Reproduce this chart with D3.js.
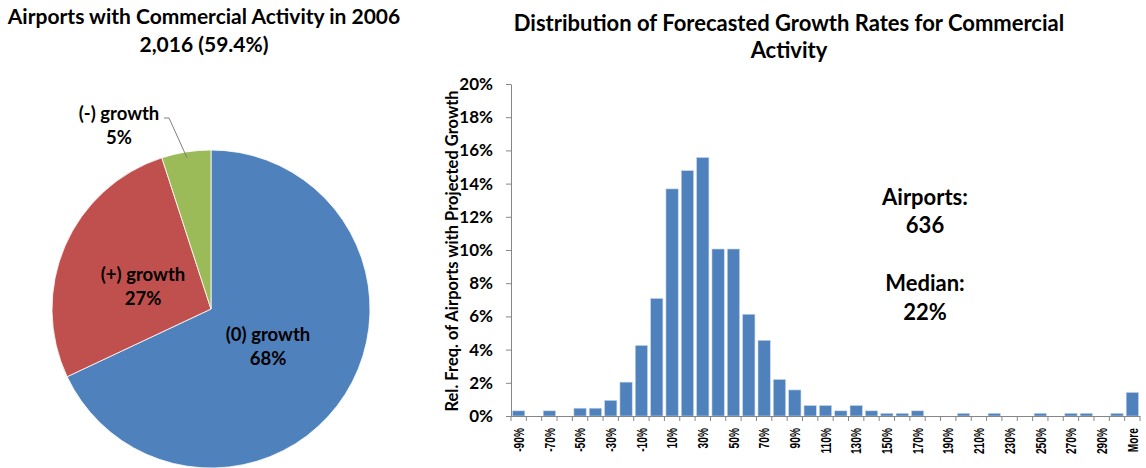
<!DOCTYPE html>
<html><head><meta charset="utf-8">
<script src="https://cdn.jsdelivr.net/npm/d3@7"></script>
<style>body{margin:0;background:#fff}svg{display:block}</style>
</head><body>
<svg id="c" width="1146" height="468"></svg>
<script>
// Pie data
const pieLabels = ["(0) growth", "(+) growth", "(-) growth"];
const pieValues = [68, 27, 5];
const pieColors = ["#4F81BD", "#C0504D", "#9BBB59"];

// Histogram data (relative frequency, %)
const binLabels = ["-90%","-80%","-70%","-60%","-50%","-40%","-30%","-20%","-10%","0%",
  "10%","20%","30%","40%","50%","60%","70%","80%","90%","100%",
  "110%","120%","130%","140%","150%","160%","170%","180%","190%","200%",
  "210%","220%","230%","240%","250%","260%","270%","280%","290%","300%","More"];
const binValues = [0.31,0,0.31,0,0.47,0.47,0.94,2.04,4.25,7.08,
  13.68,14.78,15.57,10.06,10.06,6.13,4.56,2.20,1.57,0.63,
  0.63,0.31,0.63,0.31,0.16,0.16,0.31,0,0,0.16,
  0,0.16,0,0,0.16,0,0.16,0.16,0,0.16,1.42];
const yTicks = [0,2,4,6,8,10,12,14,16,18,20];

const F = "Lato, 'Open Sans', sans-serif";
const svg = d3.select("#c");

// ---------- Pie ----------
const pieTitle = ["Airports with Commercial Activity in 2006", "2,016 (59.4%)"];
svg.selectAll("text.pt").data(pieTitle).join("text")
  .attr("x", 204).attr("y", (d,i)=>24 + i*28)
  .attr("text-anchor","middle").attr("font-family",F).attr("font-weight","bold")
  .attr("font-size",21).text(d=>d);

const cx = 211, cy = 309, R = 159;
const pie = d3.pie().sort(null).value(d=>d)(pieValues);
const arc = d3.arc().innerRadius(0).outerRadius(R);
const gp = svg.append("g").attr("transform",`translate(${cx},${cy})`);
gp.selectAll("path").data(pie).join("path")
  .attr("d",arc).attr("fill",(d,i)=>pieColors[i])
  .attr("stroke","#fff").attr("stroke-width",0.8);

const pieLabelPos = [[268,341],[143,281],[119,120]];
pieLabels.forEach((lab,i)=>{
  const t = svg.append("text").attr("text-anchor","middle")
    .attr("font-family",F).attr("font-weight","bold").attr("font-size",18.5).attr("fill","#000");
  t.append("tspan").attr("x",pieLabelPos[i][0]).attr("y",pieLabelPos[i][1]).text(lab);
  t.append("tspan").attr("x",pieLabelPos[i][0]).attr("y",pieLabelPos[i][1]+24).text(pieValues[i]+"%");
});
// leader line for small slice
const mid = (pie[2].startAngle + pie[2].endAngle)/2;
const ex = cx + Math.sin(mid)*(R-6), ey = cy - Math.cos(mid)*(R-6);
svg.append("path").attr("d",`M164,118 L169,118 L${ex},${ey}`)
  .attr("fill","none").attr("stroke","#808080").attr("stroke-width",1);

// ---------- Histogram ----------
const histTitle = ["Distribution of Forecasted Growth Rates for Commercial", "Activity"];
svg.selectAll("text.ht").data(histTitle).join("text")
  .attr("x", 789).attr("y", (d,i)=>31 + i*27)
  .attr("text-anchor","middle").attr("font-family",F).attr("font-weight","bold")
  .attr("font-size",22).text(d=>d);

const x0 = 511, x1 = 1140, yB = 416, yT = 84;
const x = d3.scaleBand().domain(binLabels).range([x0,x1]).paddingInner(0.2).paddingOuter(0.1);
const y = d3.scaleLinear().domain([0,20]).range([yB,yT]);

// y axis
const yAx = svg.append("g").attr("transform",`translate(${x0},0)`)
  .call(d3.axisLeft(y).tickValues(yTicks).tickFormat(d=>d+"%").tickSize(5).tickSizeOuter(0));
yAx.select(".domain").attr("stroke","#868686");
yAx.selectAll(".tick line").attr("stroke","#868686");
yAx.selectAll(".tick text").attr("font-family",F).attr("font-weight","bold")
  .attr("font-size",17).attr("fill","#000").attr("x",-18);

// bars
svg.append("g").selectAll("rect").data(binValues).join("rect")
  .attr("x",(d,i)=>x(binLabels[i])).attr("width",x.bandwidth())
  .attr("y",d=>y(d)).attr("height",d=>yB-y(d))
  .attr("fill","#4F81BD").attr("stroke","#c6d5ea").attr("stroke-width",0.6);

// x axis
const step = x.step();
const sx = 0.68;
const xAx = svg.append("g").attr("transform",`translate(0,${yB})`)
  .call(d3.axisBottom(x).tickValues(binLabels.filter((d,i)=>i%2===0)).tickSize(0).tickSizeOuter(0));
xAx.select(".domain").attr("stroke","#868686").attr("d",`M${x0},0.5H${x1}`);
xAx.selectAll(".tick line").remove();
xAx.selectAll(".tick text").attr("font-family","'Liberation Sans', Arial, sans-serif")
  .attr("font-weight","bold").attr("font-size",15).attr("fill","#000")
  .attr("transform",`rotate(-90) scale(${sx},1)`).attr("text-anchor","end")
  .attr("x",-12/sx).attr("y",0).attr("dy","0.35em");
// category boundary tick marks
svg.append("g").selectAll("line").data(d3.range(binLabels.length+1)).join("line")
  .attr("x1",i=>x0+i*step).attr("x2",i=>x0+i*step)
  .attr("y1",yB).attr("y2",yB+5).attr("stroke","#868686");

// y axis title
svg.append("text").attr("transform",`translate(458,251) rotate(-90)`)
  .attr("text-anchor","middle").attr("font-family",F).attr("font-weight","bold")
  .attr("font-size",16.5).text("Rel. Freq. of Airports with Projected Growth");

// annotation
const ann = ["Airports:", "636", "Median:", "22%"];
const annY = [205, 233, 291, 320];
svg.selectAll("text.ann").data(ann).join("text")
  .attr("x",925).attr("y",(d,i)=>annY[i]).attr("text-anchor","middle")
  .attr("font-family",F).attr("font-weight","bold").attr("font-size",22).text(d=>d);
</script>
</body></html>
